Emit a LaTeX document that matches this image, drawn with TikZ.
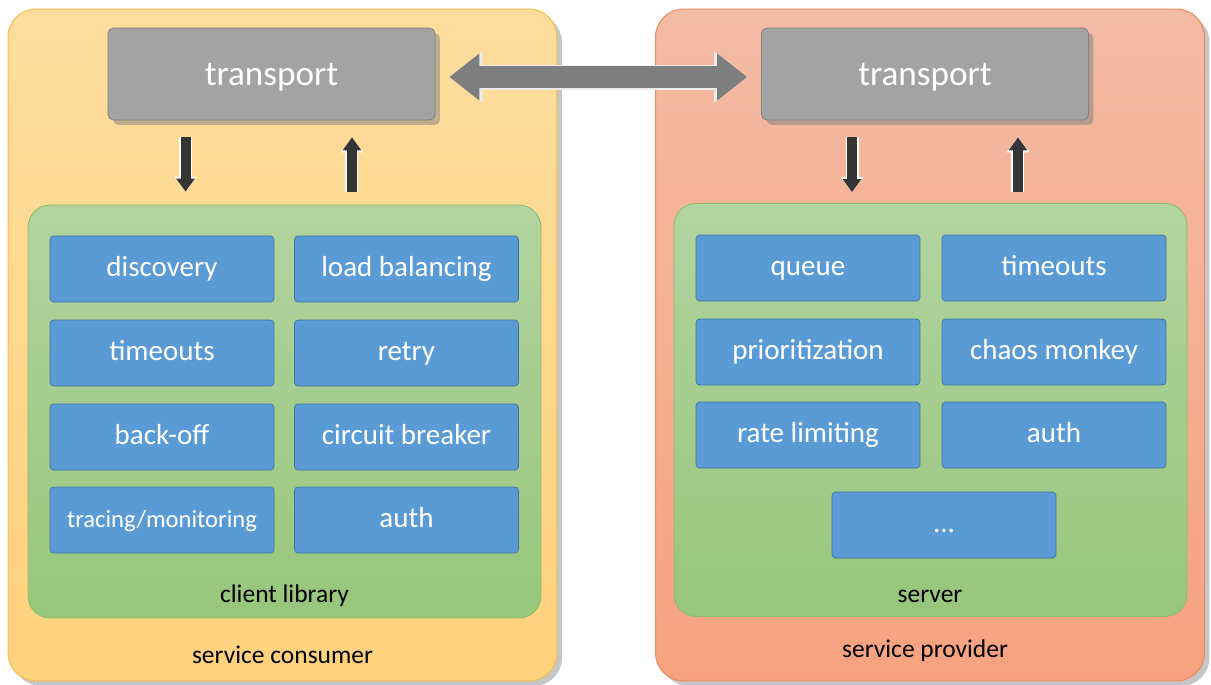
\documentclass[tikz,border=0pt]{standalone}
\usepackage{fontspec}
\setmainfont{Carlito}
\usepackage{tikz}
\usetikzlibrary{arrows.meta, positioning, shadows}
\definecolor{consumertop}{HTML}{FCDD9C}
\definecolor{consumerbot}{HTML}{FFD27D}
\definecolor{consumerline}{HTML}{F2BE4E}
\definecolor{providertop}{HTML}{F4BBA4}
\definecolor{providerbot}{HTML}{F6A27F}
\definecolor{providerline}{HTML}{EB8B5F}
\definecolor{greentop}{HTML}{B2D4A0}
\definecolor{greenbot}{HTML}{97C67C}
\definecolor{greenline}{HTML}{8CBD6D}
\definecolor{featfill}{HTML}{5B9BD5}
\definecolor{featline}{HTML}{41719C}
\definecolor{transfill}{HTML}{A3A3A3}
\definecolor{transline}{HTML}{7F7F7F}
\definecolor{linkgray}{HTML}{7E7E7E}
\definecolor{flowgray}{HTML}{353535}

\begin{document}
\begin{tikzpicture}[
    x=0.02cm, y=-0.02cm,
    side/.style={rounded corners=0.56cm, minimum width=10.98cm, minimum height=13.44cm,
        line width=0.6pt, drop shadow={opacity=0.45, shadow xshift=0.1cm, shadow yshift=-0.1cm}},
    container/.style={rounded corners=0.44cm, minimum width=10.26cm, minimum height=8.26cm,
        draw=greenline, line width=0.5pt, top color=greentop, bottom color=greenbot},
    transport/.style={draw=transline, fill=transfill, rounded corners=3pt, minimum width=6.54cm,
        minimum height=1.84cm, text=white, font=\fontsize{20}{24}\selectfont,
        text height=1.5em, text depth=0.16em,
        drop shadow={opacity=0.5, shadow xshift=0.1cm, shadow yshift=-0.1cm}},
    feature/.style={draw=featline, fill=featfill, rounded corners=2pt, minimum width=4.48cm,
        minimum height=1.32cm, text=white, font=\fontsize{16.5}{20}\selectfont,
        text height=1.1em, text depth=0.2em},
    caption/.style={font=\fontsize{14.5}{18}\selectfont, text=black},
    link/.style={line width=0.44cm, draw=linkgray, shorten <=0.28cm, shorten >=0.28cm,
        {Triangle[width=0.9cm, length=0.6cm]}-{Triangle[width=0.9cm, length=0.6cm]},
        preaction={draw=white!85!gray, line width=0.5cm,
        {Triangle[width=0.98cm, length=0.66cm]}-{Triangle[width=0.98cm, length=0.66cm]}}},
    flow/.style={line width=0.2cm, draw=flowgray, -{Triangle[width=0.36cm, length=0.26cm]},
        preaction={draw=white, line width=0.26cm, -{Triangle[width=0.44cm, length=0.3cm]}}}
]
\useasboundingbox (0,0) rectangle (1211,684);

% Outer sides
\node[side, draw=consumerline, top color=consumertop, bottom color=consumerbot] (consumer) at (282.5,345) {};
\node[side, draw=providerline, top color=providertop, bottom color=providerbot] (provider) at (930,345) {};

% Transport boxes
\node[transport] (ltrans) at (271.5,74) {transport};
\node[transport] (rtrans) at (925,74) {transport};

% Inner containers
\node[container] (lib) at (284.5,411.5) {};
\node[container] (server) at (930.5,410) {};

% Client library features
\node[feature] (discovery) at (162,269) {discovery};
\node[feature] (balancing) at (406.5,269) {load balancing};
\node[feature] (ltimeouts) at (162,353) {timeouts};
\node[feature] (retry) at (406.5,353) {retry};
\node[feature] (backoff) at (162,437) {back-off};
\node[feature] (breaker) at (406.5,437) {circuit breaker};
\node[feature, font=\fontsize{14}{17}\selectfont] (tracing) at (162,520) {tracing/monitoring};
\node[feature] (lauth) at (406.5,520) {auth};

% Server features
\node[feature] (queue) at (808,268) {queue};
\node[feature] (rtimeouts) at (1054,268) {timeouts};
\node[feature] (prio) at (808,352) {prioritization};
\node[feature] (chaos) at (1054,352) {chaos monkey};
\node[feature] (ratelimit) at (808,435) {rate limiting};
\node[feature] (rauth) at (1054,435) {auth};
\node[feature] (more) at (944,525) {...};

% Captions
\node[caption] (libname) at (284.5,596) {client library};
\node[caption] (servername) at (930,596) {server};
\node[caption] (consumername) at (282.5,655) {service consumer};
\node[caption] (providername) at (925,651) {service provider};

% Connectors
\draw[link] ([yshift=-0.06cm]ltrans.east) -- ([yshift=-0.06cm]rtrans.west);
\draw[flow, shorten <=0.34cm, shorten >=0.26cm] ([xshift=-1.72cm]ltrans.south) -- ([xshift=-1.72cm]ltrans.south |- lib.north);
\draw[flow, shorten <=0.26cm, shorten >=0.34cm] ([xshift=1.61cm]ltrans.south |- lib.north) -- ([xshift=1.61cm]ltrans.south);
\draw[flow, shorten <=0.34cm, shorten >=0.22cm] ([xshift=-1.46cm]rtrans.south) -- ([xshift=-1.46cm]rtrans.south |- server.north);
\draw[flow, shorten <=0.22cm, shorten >=0.34cm] ([xshift=1.86cm]rtrans.south |- server.north) -- ([xshift=1.86cm]rtrans.south);

\end{tikzpicture}
\end{document}
